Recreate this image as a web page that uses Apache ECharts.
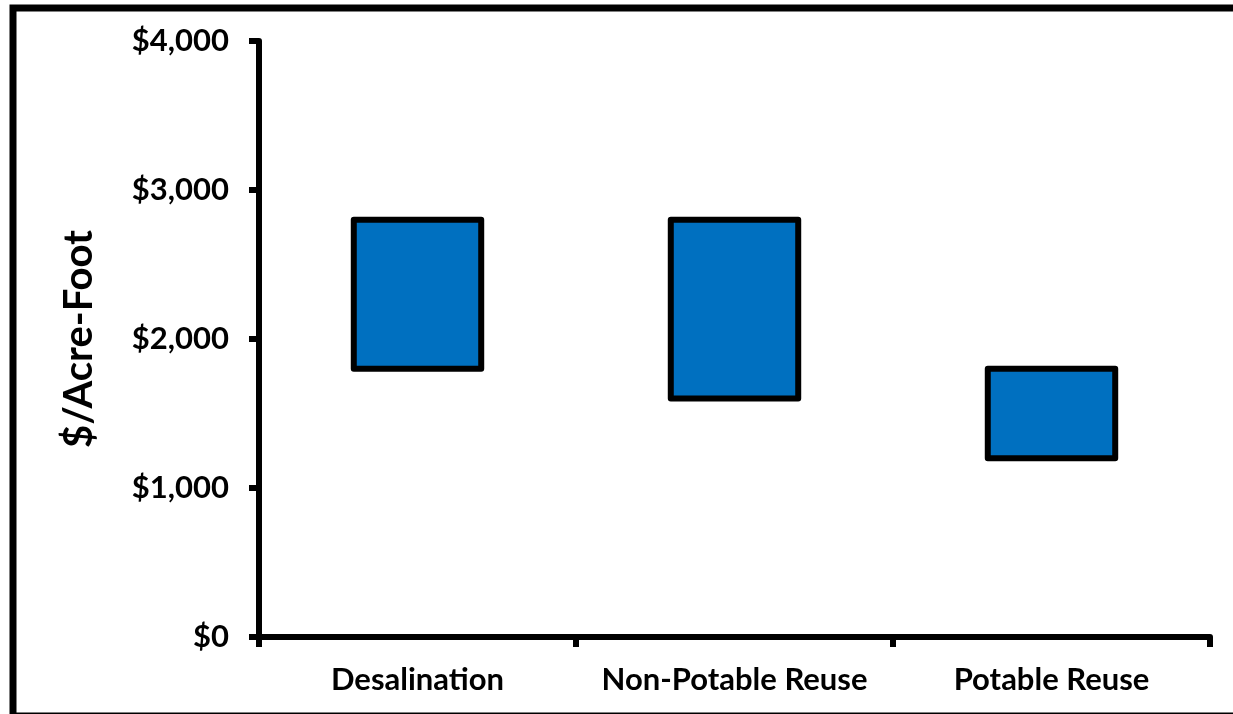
<!DOCTYPE html>
<html>
<head>
<meta charset="utf-8">
<script src="https://cdn.jsdelivr.net/npm/echarts@6/dist/echarts.min.js"></script>
<style>
  html, body { margin: 0; padding: 0; background: #fff; }
  #chart { width: 1233px; height: 714px; }
</style>
</head>
<body>
<div id="chart"></div>
<script>
// Cost range per acre-foot for each water supply option
const categories = ['Desalination', 'Non-Potable Reuse', 'Potable Reuse'];
const lowCost = [1800, 1600, 1200];
const highCost = [2800, 2800, 1800];
const yTicks = [0, 1000, 2000, 3000, 4000];

const fontFamily = 'Lato, "Open Sans", "DejaVu Sans", sans-serif';
const rangeData = categories.map((c, i) => [i, lowCost[i], highCost[i]]);

// Floating box from low to high cost, with the outline centred on the value edges
function renderRange(params, api) {
  const idx = api.value(0);
  const top = api.coord([idx, api.value(2)]);
  const bottom = api.coord([idx, api.value(1)]);
  const bandWidth = api.size([1, 0])[0];
  const w = bandWidth * 0.402;
  return {
    type: 'rect',
    shape: { x: top[0] - w / 2, y: top[1], width: w, height: bottom[1] - top[1] },
    style: { fill: '#0070C0', stroke: '#000', lineWidth: 6, lineJoin: 'round' }
  };
}

const chart = echarts.init(document.getElementById('chart'), null, { renderer: 'canvas' });
chart.setOption({
  animation: false,
  backgroundColor: '#fff',
  grid: { left: 259, right: 23, top: 41, bottom: 77, containLabel: false },
  graphic: [{
    type: 'rect',
    shape: { x: 13, y: 8, width: 1260, height: 708 },
    style: { fill: 'none', stroke: '#000', lineWidth: 7 },
    z: 100
  }],
  xAxis: {
    type: 'category',
    data: categories,
    axisLine: { lineStyle: { color: '#000', width: 6 } },
    axisTick: { show: true, interval: 0, length: 10, lineStyle: { color: '#000', width: 6 } },
    axisLabel: {
      interval: 0, hideOverlap: false,
      color: '#000', fontFamily, fontWeight: 'bold', fontSize: 31, margin: 27
    }
  },
  yAxis: {
    type: 'value',
    min: yTicks[0],
    max: yTicks[yTicks.length - 1],
    interval: 1000,
    name: '$/Acre-Foot',
    nameLocation: 'middle',
    nameGap: 160,
    nameRotate: 90,
    nameTextStyle: { color: '#000', fontFamily, fontWeight: 'bold', fontSize: 40 },
    splitLine: { show: false },
    axisLine: { show: true, lineStyle: { color: '#000', width: 6 } },
    axisTick: { show: true, length: 10, lineStyle: { color: '#000', width: 6 } },
    axisLabel: {
      color: '#000', fontFamily, fontWeight: 'bold', fontSize: 31, margin: 30,
      formatter: v => '$' + v.toLocaleString('en-US')
    }
  },
  series: [
    {
      type: 'custom',
      renderItem: renderRange,
      data: rangeData,
      encode: { x: 0, y: [1, 2] },
      z: 3
    }
  ]
});
</script>
</body>
</html>
